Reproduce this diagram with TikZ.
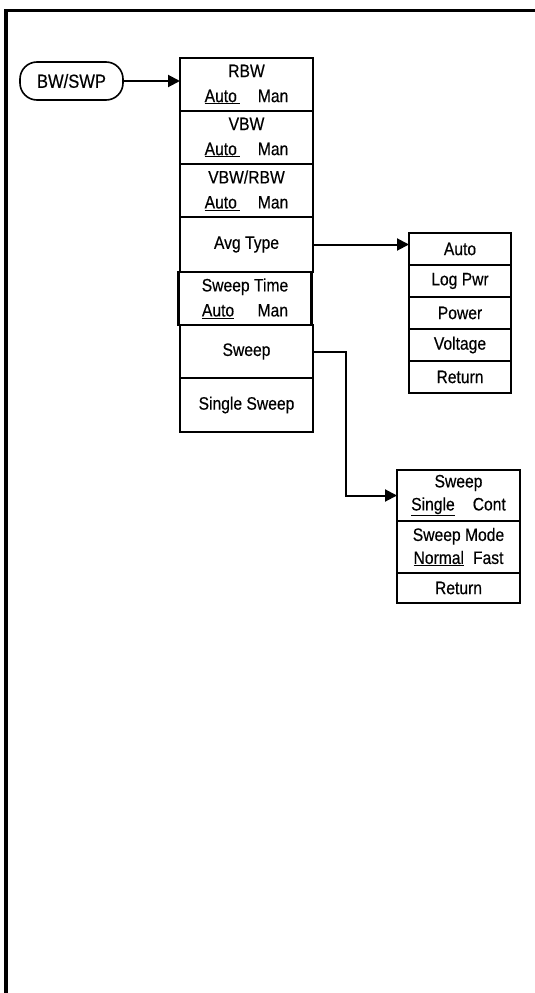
\documentclass[tikz,border=0pt]{standalone}
\usepackage{fontspec}
\setmainfont{Liberation Sans}[FakeStretch=0.87, FakeBold=0.4]
\usetikzlibrary{arrows.meta,positioning}

\begin{document}
\begin{tikzpicture}[
  x=1pt, y=-1pt,
  key/.style={rectangle, draw, line width=2.2pt, outer sep=0pt, minimum width=133pt, minimum height=53pt, inner sep=0pt, align=center, font=\fontsize{18}{25}\selectfont},
  subkey/.style={key, minimum width=102pt, minimum height=32pt},
  swkey/.style={key, minimum width=123pt, font=\fontsize{18}{23}\selectfont},
  hardkey/.style={rectangle, draw, line width=1.6pt, outer sep=0pt, rounded corners=17pt, minimum width=103pt, minimum height=38pt, inner sep=0pt, font=\fontsize{19}{19}\selectfont},
  arrow/.style={-{Triangle[length=12pt,width=12pt]}, line width=2pt}
]
\useasboundingbox (0,0) rectangle (535,993);

% page frame
\draw[line width=3.4pt] (6,993) -- (6,10.5) -- (535,10.5);

% front panel key
\node[hardkey] (bwswp) at (71.5,81) {BW/SWP};

% BW/SWP menu
\node[key] (rbw) at (246.5,84.5) {RBW\\\underline{Auto\,}\hspace{1em}Man};
\node[key, below=0pt of rbw] (vbw) {VBW\\\underline{Auto\,}\hspace{1em}Man};
\node[key, below=0pt of vbw] (vbwrbw) {VBW/RBW\\\underline{Auto\,}\hspace{1em}Man};
\node[key, below=0pt of vbwrbw, minimum height=55pt] (avgtype) {Avg Type};
\node[key, below=0pt of avgtype, xshift=-1.5pt] (swptime) {Sweep Time\\\underline{Auto}\hspace{1.3em}Man};
\node[key, below=0pt of swptime, xshift=1.5pt] (sweep) {Sweep};
\node[key, below=0pt of sweep, minimum height=54pt] (single) {Single Sweep};

% Avg Type menu
\node[subkey] (avgauto) at (460,249) {Auto};
\node[subkey, below=0pt of avgauto] (logpwr) {Log Pwr};
\node[subkey, below=0pt of logpwr] (power) {Power};
\node[subkey, below=0pt of power] (voltage) {Voltage};
\node[subkey, below=0pt of voltage] (avgret) {Return};

% Sweep menu
\node[swkey, minimum height=51pt] (swpsingle) at (458.5,495.5) {Sweep\\\underline{Single}\hspace{1em}Cont};
\node[swkey, below=0pt of swpsingle, minimum height=52pt] (swpmode) {Sweep Mode\\\underline{Normal}\hspace{0.5em}Fast};
\node[swkey, below=0pt of swpmode, minimum height=30pt] (swpret) {Return};

% Arrows
\draw[arrow] (bwswp.east) -- (bwswp.east -| rbw.west);
\draw[arrow] (avgtype.east) -- (avgtype.east -| avgauto.west);
\draw[arrow] (sweep.east) -- ++(33,0) |- (swpsingle.west);

\end{tikzpicture}
\end{document}
